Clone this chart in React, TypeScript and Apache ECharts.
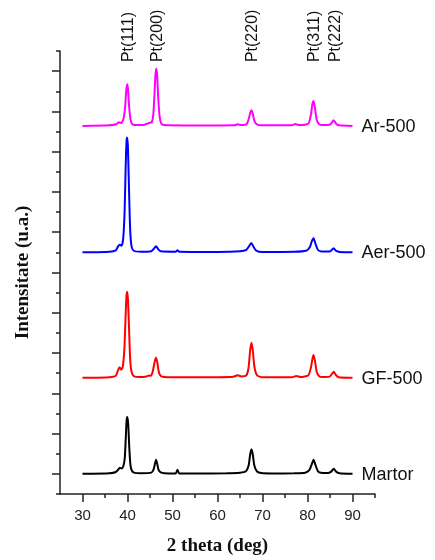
import React, { useEffect, useRef } from "react";
import * as echarts from "echarts";

// 2θ (deg) vs relative intensity above each pattern's own baseline
const martor: [number, number][] = [
  [30, 0], [36, 0.03], [37.3, 0.08], [37.9, 0.2], [38.3, 0.3], [38.7, 0.27], [39.1, 0.4], [39.4, 0.8],
  [39.6, 1.7], [39.8, 2.65], [39.95, 2.83], [40.15, 2.5], [40.4, 1.3], [40.65, 0.45], [41.0, 0.14],
  [41.6, 0.05], [43, 0.03], [45.3, 0.06], [45.8, 0.22], [46.1, 0.5], [46.35, 0.7], [46.6, 0.5],
  [46.9, 0.2], [47.4, 0.07], [48.2, 0.03], [50.7, 0.02], [51.1, 0.2], [51.5, 0.02], [55, 0.02],
  [62, 0.03], [65, 0.06], [66.3, 0.13], [66.9, 0.4], [67.25, 0.95], [67.55, 1.22], [67.85, 0.95],
  [68.2, 0.4], [68.8, 0.12], [69.7, 0.04], [72, 0.02], [77, 0.03], [79.5, 0.06], [80.4, 0.18],
  [80.9, 0.45], [81.35, 0.7], [81.8, 0.42], [82.3, 0.14], [83, 0.05], [84.5, 0.04], [85.2, 0.1],
  [85.85, 0.25], [86.4, 0.1], [87.1, 0.03], [90, 0],
];
const gf500: [number, number][] = [
  [30, 0], [36, 0.03], [37.4, 0.1], [37.9, 0.38], [38.25, 0.52], [38.6, 0.4], [38.95, 0.55], [39.3, 1.4],
  [39.55, 2.9], [39.75, 4.0], [39.9, 4.27], [40.1, 3.9], [40.35, 2.4], [40.6, 0.9], [40.9, 0.3],
  [41.4, 0.09], [43, 0.04], [44.2, 0.07], [44.7, 0.11], [45.2, 0.1], [45.6, 0.3], [45.95, 0.7],
  [46.3, 1.0], [46.6, 0.8], [46.95, 0.3], [47.4, 0.09], [48.2, 0.04], [50, 0.03], [60, 0.03],
  [63.5, 0.05], [64.5, 0.13], [65.3, 0.07], [66.4, 0.12], [66.9, 0.5], [67.25, 1.35], [67.55, 1.74],
  [67.85, 1.35], [68.2, 0.55], [68.8, 0.12], [70, 0.03], [76.5, 0.03], [77.5, 0.09], [78.5, 0.04],
  [80.2, 0.13], [80.75, 0.5], [81.1, 0.95], [81.35, 1.13], [81.65, 0.85], [82.05, 0.3], [82.6, 0.08],
  [83.3, 0.04], [84.9, 0.06], [85.4, 0.18], [85.85, 0.3], [86.3, 0.14], [86.9, 0.03], [90, 0],
];
const aer500: [number, number][] = [
  [30, 0], [36, 0.03], [37.4, 0.1], [37.9, 0.3], [38.3, 0.38], [38.7, 0.33], [39.05, 0.7], [39.35, 2.0],
  [39.6, 4.3], [39.78, 5.5], [39.92, 5.7], [40.1, 5.2], [40.35, 3.0], [40.6, 1.1], [40.9, 0.3],
  [41.4, 0.08], [43, 0.03], [45.3, 0.06], [45.85, 0.18], [46.35, 0.3], [46.85, 0.15], [47.4, 0.05],
  [50.7, 0.03], [51.1, 0.1], [51.5, 0.03], [60, 0.02], [65, 0.05], [66.4, 0.12], [67.0, 0.3],
  [67.5, 0.47], [68.0, 0.28], [68.6, 0.09], [70, 0.02], [77, 0.03], [79.7, 0.08], [80.5, 0.25],
  [80.95, 0.55], [81.35, 0.7], [81.75, 0.45], [82.3, 0.13], [83.1, 0.04], [85.1, 0.06], [85.8, 0.2],
  [86.4, 0.07], [87.1, 0.02], [90, 0],
];
const ar500: [number, number][] = [
  [30, 0], [36, 0.03], [37.5, 0.08], [38.1, 0.18], [38.6, 0.14], [39.1, 0.35], [39.45, 0.9], [39.7, 1.7],
  [39.9, 2.07], [40.1, 1.85], [40.35, 1.0], [40.65, 0.35], [41.0, 0.1], [41.6, 0.04], [43.5, 0.04],
  [44.5, 0.12], [45.0, 0.16], [45.4, 0.18], [45.75, 0.6], [46.0, 1.6], [46.2, 2.5], [46.4, 2.85],
  [46.62, 2.4], [46.85, 1.3], [47.15, 0.45], [47.5, 0.12], [48.1, 0.04], [55, 0.02], [63.8, 0.03],
  [64.5, 0.08], [65.2, 0.04], [66.5, 0.1], [67.0, 0.4], [67.3, 0.68], [67.55, 0.78], [67.85, 0.6],
  [68.2, 0.25], [68.8, 0.07], [69.7, 0.03], [76.5, 0.03], [77.3, 0.1], [78.0, 0.04], [80.2, 0.12],
  [80.75, 0.55], [81.1, 1.1], [81.35, 1.24], [81.65, 0.9], [82.05, 0.3], [82.6, 0.08], [83.3, 0.04],
  [85.1, 0.08], [85.8, 0.28], [86.4, 0.1], [87.0, 0.03], [90, 0],
];

const seriesNames = ["Martor", "GF-500", "Aer-500", "Ar-500"];
const seriesColors = ["#000000", "#ff0000", "#0000ff", "#ff00ff"];
const seriesOffsets = [1, 5.77, 12, 18.28];
const seriesData = [martor, gf500, aer500, ar500];

const peakLabels = ["Pt(111)", "Pt(200)", "Pt(220)", "Pt(311)", "Pt(222)"];
const peakPositions = [39.9, 46.4, 67.6, 81.4, 85.9];

const xMajorTicks = [30, 40, 50, 60, 70, 80, 90];
const xMinorTicks = [35, 45, 55, 65, 75, 85, 95];
const yMajorTicks = [1, 3, 5, 7, 9, 11, 13, 15, 17, 19, 21];
const yMinorTicks = [0, 2, 4, 6, 8, 10, 12, 14, 16, 18, 20, 22];

const X_MIN = 25, X_MAX = 95, Y_MIN = 0, Y_MAX = 22;
const LABEL_Y = 21.45;

export default function App() {
  const ref = useRef<HTMLDivElement>(null);
  useEffect(() => {
    if (!ref.current) return;
    const chart = echarts.init(ref.current, null, { renderer: "svg" });
    const sans = "Liberation Sans";
    const serif = "Liberation Serif";
    const axisLine = { show: true, lineStyle: { color: "#222", width: 1.5 } };
    chart.setOption({
      animation: false,
      grid: { left: 60, top: 51, width: 315, height: 443 },
      xAxis: [
        {
          type: "value", min: X_MIN, max: X_MAX, position: "bottom",
          axisLine, splitLine: { show: false },
          axisTick: { show: true, customValues: xMajorTicks, length: 8, lineStyle: { color: "#222", width: 1.5 } },
          axisLabel: { show: true, customValues: xMajorTicks, fontSize: 15, fontFamily: sans, color: "#222", margin: 13 },
          name: "2 theta (deg)", nameLocation: "middle", nameGap: 41,
          nameTextStyle: { fontFamily: serif, fontWeight: "bold", fontSize: 19, color: "#111" },
        },
        {
          type: "value", min: X_MIN, max: X_MAX, position: "bottom",
          axisLine: { show: false }, splitLine: { show: false },
          axisTick: { show: true, customValues: xMinorTicks, length: 4, lineStyle: { color: "#222", width: 1.5 } },
          axisLabel: { show: false },
        },
      ],
      yAxis: [
        {
          type: "value", min: Y_MIN, max: Y_MAX, position: "left",
          axisLine, splitLine: { show: false },
          axisTick: { show: true, customValues: yMajorTicks, length: 8, lineStyle: { color: "#222", width: 1.5 } },
          axisLabel: { show: false },
          name: "Intensitate (u.a.)", nameLocation: "middle", nameGap: 29,
          nameTextStyle: { fontFamily: serif, fontWeight: "bold", fontSize: 19, color: "#111" },
        },
        {
          type: "value", min: Y_MIN, max: Y_MAX, position: "left",
          axisLine: { show: false }, splitLine: { show: false },
          axisTick: { show: true, customValues: yMinorTicks, length: 4, lineStyle: { color: "#222", width: 1.5 } },
          axisLabel: { show: false },
        },
      ],
      series: seriesData.map((d, i) => ({
        type: "line",
        name: seriesNames[i],
        xAxisIndex: 0,
        yAxisIndex: 0,
        data: d.map(([x, y]) => [x, y + seriesOffsets[i]]),
        showSymbol: false,
        symbol: "none",
        smooth: 0.2,
        lineStyle: { color: seriesColors[i], width: 2 },
        itemStyle: { color: seriesColors[i] },
        endLabel: {
          show: true, formatter: "{a}", distance: 9,
          fontSize: 18, fontFamily: sans, color: "#111",
        },
        z: 2 + i,
      })),
    });
    const yPix = chart.convertToPixel({ yAxisIndex: 0 }, LABEL_Y) as number;
    chart.setOption({
      graphic: peakPositions.map((p, i) => ({
        type: "text",
        x: chart.convertToPixel({ xAxisIndex: 0 }, p) as number,
        y: yPix,
        rotation: Math.PI / 2,
        style: {
          text: peakLabels[i], fontSize: 16, fontFamily: sans, fill: "#111",
          align: "left", verticalAlign: "middle",
        },
      })),
    });
    return () => chart.dispose();
  }, []);
  return <div ref={ref} style={{ position: "fixed", left: 0, top: 0, width: 435, height: 560 }} />;
}
